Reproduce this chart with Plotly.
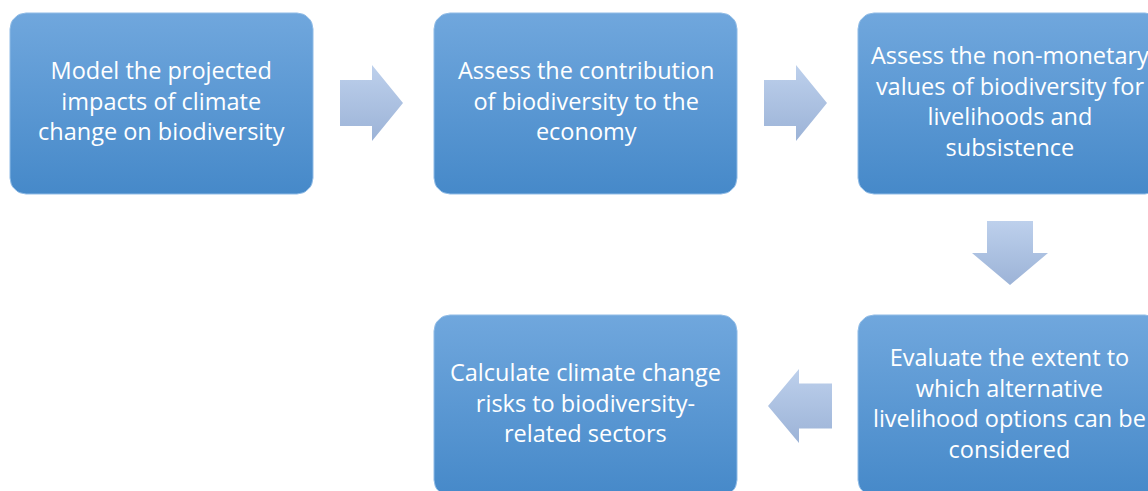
import plotly.graph_objects as go

# ---- diagram content ----
step_texts = [
    "Model the projected<br>impacts of climate<br>change on biodiversity",
    "Assess the contribution<br>of biodiversity to the<br>economy",
    "Assess the non-monetary<br>values of biodiversity for<br>livelihoods and<br>subsistence",
    "Evaluate the extent to<br>which alternative<br>livelihood options can be<br>considered",
    "Calculate climate change<br>risks to biodiversity-<br>related sectors",
]
# box top-left corners (pixel layout)
box_x = [10, 434, 858, 858, 434]
box_y = [13, 13, 13, 315, 315]
BOX_W, BOX_H, RAD = 303, 181, 16

# arrows: (x0, y0, direction) ; x0,y0 = top-left of bounding box
arrows = [(340, 65, "right"), (764, 65, "right"), (972, 221, "down"), (768, 369, "left")]

BOX_TOP, BOX_BOT = "#70a7dd", "#4689c9"
ARR_TOP, ARR_BOT = "#bdd0ec", "#9cb3d7"

W, H = 1148, 491


def rounded_rect(x0, y0, w, h, r, n=8):
    import math
    xs, ys = [], []
    corners = [(x0 + w - r, y0 + r, -90, 0), (x0 + w - r, y0 + h - r, 0, 90),
               (x0 + r, y0 + h - r, 90, 180), (x0 + r, y0 + r, 180, 270)]
    for cx, cy, a0, a1 in corners:
        for i in range(n + 1):
            a = math.radians(a0 + (a1 - a0) * i / n)
            xs.append(cx + r * math.cos(a))
            ys.append(cy + r * math.sin(a))
    xs.append(xs[0]); ys.append(ys[0])
    return xs, ys


def arrow_poly(x0, y0, d):
    if d == "right":
        L, Hh, sh, hd = 63, 76, 46, 31
        cy = y0 + Hh / 2
        xs = [x0, x0 + L - hd, x0 + L - hd, x0 + L, x0 + L - hd, x0 + L - hd, x0, x0]
        ys = [cy - sh / 2, cy - sh / 2, y0, cy, y0 + Hh, cy + sh / 2, cy + sh / 2, cy - sh / 2]
    elif d == "left":
        L, Hh, sh, hd = 64, 74, 45, 31
        cy = y0 + Hh / 2
        xs = [x0 + L, x0 + hd, x0 + hd, x0, x0 + hd, x0 + hd, x0 + L, x0 + L]
        ys = [cy - sh / 2, cy - sh / 2, y0, cy, y0 + Hh, cy + sh / 2, cy + sh / 2, cy - sh / 2]
    else:  # down
        Wd, L, sw, hd = 76, 64, 46, 32
        cx = x0 + Wd / 2
        xs = [cx - sw / 2, cx + sw / 2, cx + sw / 2, x0 + Wd, cx, x0, cx - sw / 2, cx - sw / 2]
        ys = [y0, y0, y0 + L - hd, y0 + L - hd, y0 + L, y0 + L - hd, y0 + L - hd, y0]
    return xs, ys


fig = go.Figure()

for bx, by in zip(box_x, box_y):
    xs, ys = rounded_rect(bx, by, BOX_W, BOX_H, RAD)
    fig.add_trace(go.Scatter(
        x=xs, y=ys, mode="lines", fill="toself",
        line=dict(color="#8fbbe6", width=1),
        fillgradient=dict(type="vertical", colorscale=[[0, BOX_TOP], [1, BOX_BOT]],
                          start=by, stop=by + BOX_H),
        hoverinfo="skip", showlegend=False))

for ax, ay, d in arrows:
    xs, ys = arrow_poly(ax, ay, d)
    y_lo, y_hi = min(ys), max(ys)
    fig.add_trace(go.Scatter(
        x=xs, y=ys, mode="lines", fill="toself",
        line=dict(color="rgba(0,0,0,0)", width=0),
        fillgradient=dict(type="vertical", colorscale=[[0, ARR_TOP], [1, ARR_BOT]],
                          start=y_lo, stop=y_hi),
        hoverinfo="skip", showlegend=False))

for txt, bx, by in zip(step_texts, box_x, box_y):
    fig.add_annotation(x=bx + BOX_W / 2, y=by + BOX_H / 2 - 3, text=txt, showarrow=False,
                       xanchor="center", yanchor="middle", align="center",
                       font=dict(family="Open Sans", size=23.5, color="white"))

fig.update_layout(
    width=W, height=H, margin=dict(l=0, r=0, t=0, b=0),
    paper_bgcolor="white", plot_bgcolor="white",
    xaxis=dict(range=[0, W], visible=False, fixedrange=True),
    yaxis=dict(range=[H, 0], visible=False, fixedrange=True),
)

fig.write_html("out.html", config={"displayModeBar": False},
               post_script="document.body.style.margin='0';document.body.style.overflow='hidden';")
